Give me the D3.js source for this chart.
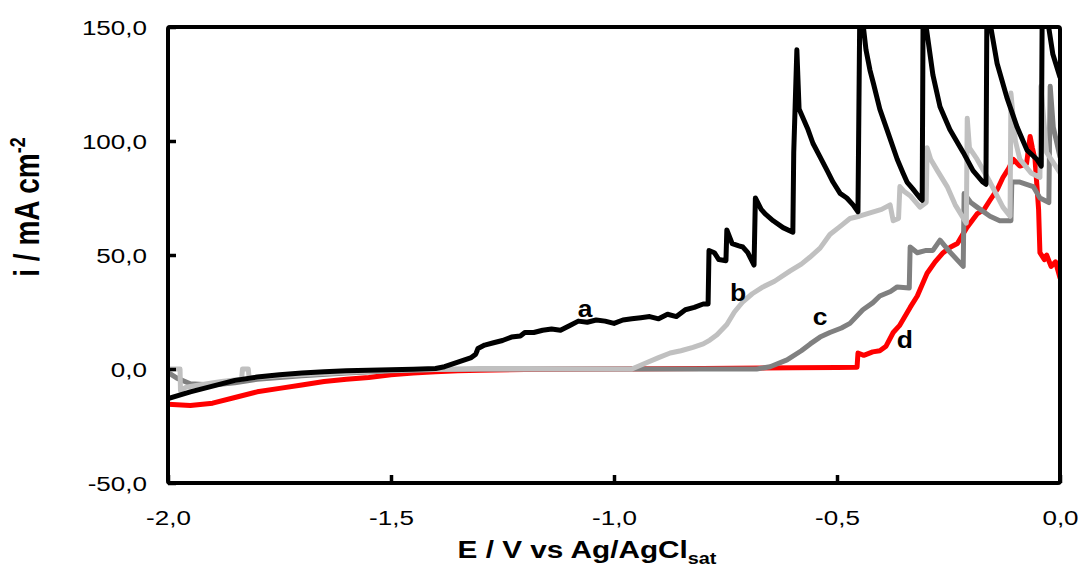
<!DOCTYPE html>
<html>
<head>
<meta charset="utf-8">
<script src="https://cdn.jsdelivr.net/npm/d3@7"></script>
<style>
  body { margin: 0; background: #fff; }
  svg { display: block; font-family: "Liberation Sans", Arial, sans-serif; }
</style>
</head>
<body>
<svg id="chart" width="1080" height="574"></svg>
<script>
// axis ticks
const xTicks = [-2.0, -1.5, -1.0, -0.5, 0.0];
const yTicks = [-50, 0, 50, 100, 150];

// curve labels [text, E, i]
const curveLabels = [
    ["a", -1.065, 22.8],
    ["b", -0.722, 30],
    ["c", -0.538, 19.3],
    ["d", -0.348, 9.2]
];

// curve a (black) : [E / V, i / mA cm-2]
const curveA = [
    [-2.0, -13], [-1.95, -10], [-1.9, -7.5], [-1.85, -5], [-1.8, -3.5], [-1.75, -2.5],
    [-1.7, -1.8], [-1.65, -1.2], [-1.6, -0.8], [-1.55, -0.5], [-1.5, -0.3], [-1.45, -0.1],
    [-1.4, 0.2], [-1.38, 1], [-1.35, 3], [-1.32, 5], [-1.31, 6.5], [-1.305, 9],
    [-1.29, 10.5], [-1.27, 11.5], [-1.25, 12.5], [-1.23, 14], [-1.21, 14.5], [-1.2, 16],
    [-1.18, 16], [-1.16, 17], [-1.14, 17.5], [-1.12, 17], [-1.1, 19], [-1.08, 21],
    [-1.06, 20.5], [-1.04, 21.5], [-1.02, 21], [-1.0, 20], [-0.98, 21.5], [-0.96, 22],
    [-0.94, 22.5], [-0.92, 23], [-0.9, 22], [-0.88, 24], [-0.86, 23], [-0.84, 26],
    [-0.82, 27], [-0.8, 28.5], [-0.789, 28.5], [-0.787, 52], [-0.775, 51], [-0.765, 48],
    [-0.749, 47.5], [-0.747, 61], [-0.735, 55], [-0.72, 54], [-0.711, 53.5], [-0.7, 51],
    [-0.686, 45.6], [-0.683, 75], [-0.67, 70], [-0.661, 68], [-0.643, 65], [-0.621, 62],
    [-0.599, 60], [-0.597, 95], [-0.59, 140], [-0.585, 114], [-0.576, 110], [-0.565, 105],
    [-0.554, 99], [-0.538, 93], [-0.522, 87], [-0.509, 82], [-0.493, 77], [-0.478, 75],
    [-0.464, 72], [-0.453, 69], [-0.449, 155], [-0.442, 152], [-0.435, 140], [-0.426, 131],
    [-0.418, 125], [-0.404, 114], [-0.388, 105], [-0.365, 92], [-0.352, 86], [-0.343, 82],
    [-0.33, 79], [-0.314, 75], [-0.309, 74], [-0.307, 155], [-0.3, 150], [-0.285, 129],
    [-0.269, 115], [-0.247, 105], [-0.217, 95], [-0.195, 87], [-0.173, 82], [-0.166, 81],
    [-0.164, 155], [-0.157, 152], [-0.141, 134], [-0.119, 119], [-0.096, 106], [-0.074, 96],
    [-0.052, 92], [-0.042, 89], [-0.04, 155], [-0.027, 152], [-0.016, 138], [0.0, 128]
];

// curve b (light grey)
const curveB = [
    [-2.0, 0], [-1.973, 0], [-1.972, -9.5], [-1.96, -8], [-1.93, -7], [-1.88, -5.5],
    [-1.835, -4.5], [-1.833, 0], [-1.82, 0], [-1.818, -4], [-1.75, -3], [-1.65, -2],
    [-1.55, -1], [-1.45, -0.3], [-1.3, 0], [-1.1, 0], [-0.96, 0], [-0.93, 2.5],
    [-0.9, 5], [-0.874, 7], [-0.85, 8], [-0.823, 9.5], [-0.8, 11], [-0.785, 12.7],
    [-0.769, 15], [-0.747, 19.5], [-0.73, 25], [-0.711, 29.5], [-0.69, 33], [-0.666, 36],
    [-0.64, 38.5], [-0.605, 43], [-0.58, 46], [-0.561, 49], [-0.538, 53], [-0.516, 59],
    [-0.49, 63], [-0.471, 66], [-0.45, 67], [-0.426, 68.5], [-0.4, 70], [-0.381, 72],
    [-0.374, 65], [-0.362, 66], [-0.359, 80], [-0.35, 78], [-0.336, 76], [-0.314, 71],
    [-0.3, 73], [-0.298, 97], [-0.29, 92], [-0.275, 87], [-0.253, 80], [-0.235, 72],
    [-0.21, 64], [-0.208, 110], [-0.203, 97], [-0.186, 92], [-0.157, 82], [-0.128, 71],
    [-0.112, 67], [-0.11, 121], [-0.1, 100], [-0.09, 92], [-0.065, 86], [-0.045, 84],
    [-0.043, 124], [-0.03, 95], [0.0, 86]
];

// curve c (dark grey)
const curveC = [
    [-2.0, -1.5], [-1.98, -4], [-1.95, -6.5], [-1.9, -7], [-1.85, -6], [-1.8, -4.5],
    [-1.7, -3], [-1.6, -1.8], [-1.5, -0.8], [-1.4, -0.2], [-1.3, 0], [-1.0, 0],
    [-0.68, 0], [-0.65, 1], [-0.612, 4], [-0.58, 8], [-0.56, 11], [-0.538, 14],
    [-0.516, 16], [-0.49, 18], [-0.471, 20], [-0.442, 26], [-0.42, 29], [-0.404, 32],
    [-0.38, 34], [-0.365, 36], [-0.338, 35.5], [-0.336, 53.5], [-0.32, 51], [-0.3, 52],
    [-0.285, 52], [-0.269, 56.5], [-0.25, 52], [-0.217, 45], [-0.215, 77], [-0.2, 73],
    [-0.186, 71], [-0.157, 67], [-0.135, 65], [-0.11, 65], [-0.108, 82], [-0.09, 82],
    [-0.06, 80], [-0.045, 75], [-0.025, 73], [-0.022, 124], [-0.015, 106], [0.0, 93]
];

// curve d (red)
const curveD = [
    [-2.0, -15.5], [-1.95, -16], [-1.9, -15], [-1.85, -12.5], [-1.8, -10], [-1.75, -8.5],
    [-1.7, -7], [-1.65, -5.5], [-1.6, -4.5], [-1.55, -3.7], [-1.5, -2.5], [-1.45, -1.8],
    [-1.4, -1.2], [-1.35, -0.8], [-1.3, -0.5], [-1.2, -0.2], [-1.0, 0], [-0.8, 0.2],
    [-0.6, 0.5], [-0.5, 0.7], [-0.455, 0.8], [-0.453, 7], [-0.44, 6], [-0.42, 7.5],
    [-0.404, 8], [-0.39, 10], [-0.374, 16], [-0.36, 19], [-0.336, 27], [-0.32, 32],
    [-0.298, 42], [-0.28, 47], [-0.262, 51], [-0.245, 53.5], [-0.23, 55], [-0.209, 62],
    [-0.186, 68], [-0.17, 70], [-0.157, 74], [-0.14, 79], [-0.128, 84], [-0.115, 88],
    [-0.105, 92], [-0.09, 89], [-0.075, 90], [-0.067, 102], [-0.062, 97], [-0.056, 92],
    [-0.048, 70], [-0.045, 51], [-0.035, 48], [-0.03, 50], [-0.02, 45], [-0.01, 47],
    [0.0, 40]
];

const series = [
    { data: curveD, color: "#ff0000" },
    { data: curveC, color: "#808080" },
    { data: curveB, color: "#c0c0c0" },
    { data: curveA, color: "#000000" }
];

const margin = { left: 168, right: 20, top: 27, bottom: 91 };
const width = 1080, height = 574;
const TEXT_STRETCH = 1.24;

const svg = d3.select("#chart");

const x = d3.scaleLinear().domain([-2, 0]).range([margin.left, width - margin.right]);
const y = d3.scaleLinear().domain([-50, 150]).range([height - margin.bottom, margin.top]);

// comma decimals, plain hyphen for minus
const locale = d3.formatLocale({ decimal: ",", thousands: ".", grouping: [3], currency: ["", ""], minus: "-" });
const fmt = locale.format(".1f");

svg.append("clipPath").attr("id", "plot-clip")
    .append("rect")
    .attr("x", x(-2)).attr("y", y(150))
    .attr("width", x(0) - x(-2)).attr("height", y(-50) - y(150));

const line = d3.line().x(d => x(d[0])).y(d => y(d[1]));

const plot = svg.append("g").attr("clip-path", "url(#plot-clip)");
plot.selectAll("path.curve")
    .data(series)
    .enter()
    .append("path")
    .attr("class", "curve")
    .attr("d", d => line(d.data))
    .attr("fill", "none")
    .attr("stroke", d => d.color)
    .attr("stroke-width", 5)
    .attr("stroke-linejoin", "round")
    .attr("stroke-linecap", "round");

// axes (ticks point inward)
const yAxis = svg.append("g")
    .attr("transform", `translate(${x(-2)},0)`)
    .call(d3.axisLeft(y).tickValues(yTicks).tickFormat(fmt).tickSizeInner(-8).tickSizeOuter(0).tickPadding(21));

const xAxis = svg.append("g")
    .attr("transform", `translate(0,${y(-50)})`)
    .call(d3.axisBottom(x).tickValues(xTicks).tickFormat(fmt).tickSizeInner(-8).tickSizeOuter(0));

[yAxis, xAxis].forEach(ax => {
    ax.select(".domain").remove();
    ax.selectAll(".tick line").attr("stroke", "#000").attr("stroke-width", 3.5);
    ax.selectAll(".tick text")
        .attr("fill", "#000")
        .style("font-size", "21px");
});

yAxis.selectAll(".tick text")
    .attr("x", -21 / TEXT_STRETCH)
    .attr("dy", "0.36em")
    .attr("transform", `scale(${TEXT_STRETCH},1)`);

xAxis.selectAll(".tick text")
    .attr("y", 42)
    .attr("dy", 0)
    .attr("transform", `scale(${TEXT_STRETCH},1)`);

// frame
svg.append("rect")
    .attr("x", x(-2)).attr("y", y(150))
    .attr("width", x(0) - x(-2)).attr("height", y(-50) - y(150))
    .attr("fill", "none")
    .attr("stroke", "#000")
    .attr("stroke-width", 4)
    .attr("rx", 2);

// curve letters
svg.selectAll("text.curve-label")
    .data(curveLabels)
    .enter()
    .append("text")
    .attr("class", "curve-label")
    .attr("transform", d => `translate(${x(d[1])},${y(d[2])}) scale(1.15,1)`)
    .attr("text-anchor", "middle")
    .style("font-size", "23px")
    .style("font-weight", "bold")
    .text(d => d[0]);

// axis titles
const xTitle = svg.append("text")
    .attr("transform", `translate(587,558) scale(${TEXT_STRETCH},1)`)
    .attr("text-anchor", "middle")
    .style("font-size", "24px")
    .style("font-weight", "bold");
xTitle.append("tspan").text("E / V vs Ag/AgCl");
xTitle.append("tspan").attr("dy", 6).style("font-size", "16px").text("sat");

const yTitle = svg.append("text")
    .attr("transform", `translate(39,207) scale(${TEXT_STRETCH},1) rotate(-90)`)
    .attr("text-anchor", "middle")
    .style("font-size", "28px")
    .style("font-weight", "bold");
yTitle.append("tspan").text("i / mA cm");
yTitle.append("tspan").attr("dy", -11).style("font-size", "18px").text("-2");
</script>
</body>
</html>
